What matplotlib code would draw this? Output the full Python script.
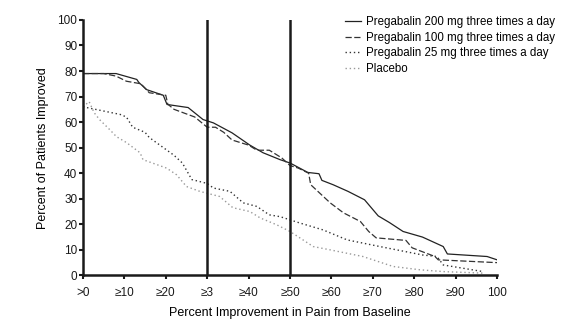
import matplotlib
matplotlib.use('Agg')
import matplotlib.pyplot as plt

plt.rcParams['font.family'] = ['Liberation Sans', 'DejaVu Sans']

# percent improvement (x) and percent of patients improved (y)
x200 = [0, 8, 13, 13.5, 15.4, 19.4, 20.3, 25.4, 29, 31.5, 36, 40.3, 43.5, 47.6, 50,
        54.3, 57, 57.7, 60.4, 64, 68, 71.3, 74, 77.3, 82, 87, 88, 97.6, 100]
y200 = [79, 79, 76.7, 75.5, 72.7, 70.5, 66.9, 65.7, 61, 59.7, 55.8, 51, 48, 45.3, 44,
        40.3, 39.8, 37.2, 35.5, 32.9, 29.6, 23.3, 20.7, 17.2, 15, 11.3, 8.4, 7.4, 6.1]

x100 = [0, 5, 8, 10.5, 14, 16, 20, 20.5, 22, 27, 30, 32, 34, 36, 40, 42, 45, 48, 50,
        52, 54.5, 55, 59.7, 62.9, 67, 69, 70.8, 78, 79.5, 85, 85.8, 100]
y100 = [79, 79, 78, 76, 75, 71.5, 70.5, 67, 65, 62, 58, 58, 56, 53, 51, 49, 49, 46, 43,
        42, 40, 35.5, 28.4, 24.5, 21.1, 17.2, 14.7, 13.7, 10.8, 7.4, 6.1, 5]

x25 = [0, 9, 10.5, 12, 15, 16, 22, 24, 26.3, 30, 31.5, 35.5, 38.7, 42, 45, 47.6, 52.4,
       58, 63.8, 71.7, 82, 85.5, 87, 91.8, 96.6]
y25 = [66, 63, 62, 58, 56, 54, 47, 44, 37.5, 36, 34.2, 32.9, 28.4, 27, 23.7, 23, 20.5,
       17.8, 13.9, 11.3, 8, 7.4, 4.1, 2.8, 1.5]

xpl = [0, 1.5, 2.7, 4, 6.5, 8.1, 10.5, 13.8, 14.5, 20.2, 22.6, 25, 28.2, 33, 36.2, 40.3,
       42.8, 46.8, 50, 55.6, 59.7, 67.6, 74.9, 81.4, 87, 96.6]
ypl = [66, 68, 63.7, 61, 57, 54.3, 52, 48, 45.3, 42, 39.4, 34.8, 32.9, 30.9, 26.5, 25,
       22.5, 19.8, 17.2, 11.3, 10, 7.4, 3.5, 2.2, 1.5, 0.9]

xticks = [0, 10, 20, 30, 40, 50, 60, 70, 80, 90, 100]
xticklabels = ['>0', '≥10', '≥20', '≥3', '≥40', '≥50', '≥60', '≥70', '≥80', '≥90', '100']
yticks = [0, 10, 20, 30, 40, 50, 60, 70, 80, 90, 100]
cutoffs = [30, 50]

fig = plt.figure(figsize=(5.72, 3.21), dpi=100)
ax = fig.add_axes([0.145, 0.142, 0.724, 0.796])

ax.plot(x200, y200, color='#222222', lw=0.9, ls='-',
        label='Pregabalin 200 mg three times a day')
ax.plot(x100, y100, color='#333333', lw=0.9, ls=(0, (5, 2)),
        label='Pregabalin 100 mg three times a day')
ax.plot(x25, y25, color='#333333', lw=1.0, ls=(0, (1, 2)),
        label='Pregabalin 25 mg three times a day')
ax.plot(xpl, ypl, color='#999999', lw=1.0, ls=(0, (1, 2)),
        label='Placebo')

for c in cutoffs:
    ax.axvline(c, ymin=0, ymax=1, color='#1a1a1a', lw=1.8)

ax.set_xlim(0, 100)
ax.set_ylim(0, 100)
ax.set_xticks(xticks)
ax.set_xticklabels(xticklabels)
ax.set_yticks(yticks)
for s in ['top', 'right']:
    ax.spines[s].set_visible(False)
for s in ['left', 'bottom']:
    ax.spines[s].set_linewidth(1.8)
    ax.spines[s].set_color('#1a1a1a')
ax.tick_params(direction='out', length=3, width=1.5, labelsize=8.5, colors='#1a1a1a', pad=1)
ax.xaxis.set_tick_params(pad=5)

ax.set_xlabel('Percent Improvement in Pain from Baseline', fontsize=9, labelpad=6)
ax.set_ylabel('Percent of Patients Improved', fontsize=9, labelpad=6)

fig.legend(loc='upper left', bbox_to_anchor=(0.595, 0.965), frameon=False,
           fontsize=8.3, handlelength=1.4, handletextpad=0.4, labelspacing=0.32,
           borderaxespad=0)

fig.savefig('out.png', dpi=100)
